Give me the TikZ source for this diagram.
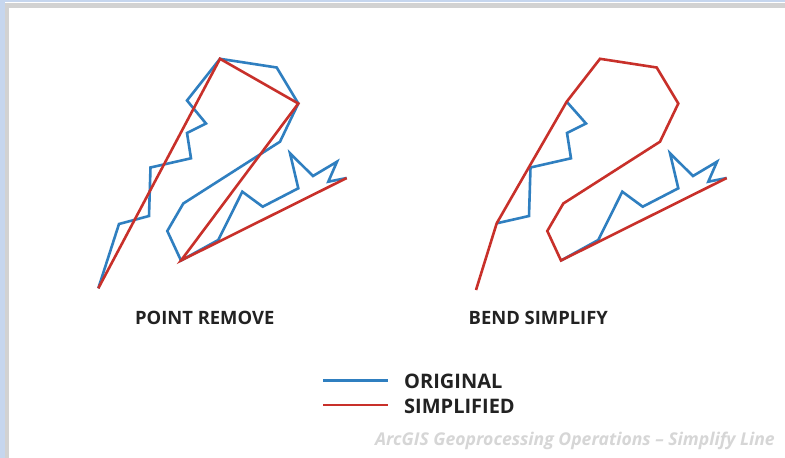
\documentclass[tikz,border=0pt]{standalone}
\usepackage{fontspec}
\newfontfamily\labfont{Open Sans}
\definecolor{origblue}{HTML}{2F7FC0}
\definecolor{simpred}{HTML}{C8302A}
\definecolor{framebl}{HTML}{C6D6EE}
\definecolor{framegr}{HTML}{D2D2D2}
\definecolor{foot}{HTML}{D6D6D6}
\definecolor{txt}{HTML}{222222}
\newcommand\mypts[1]{%
  \coordinate (#1b1) at (98.3,288.3);
  \coordinate (#1b2) at (119,224);
  \coordinate (#1b3) at (149,216);
  \coordinate (#1b4) at (150.5,167.5);
  \coordinate (#1b5) at (191,158.3);
  \coordinate (#1b6) at (187,133);
  \coordinate (#1b7) at (206,123.5);
  \coordinate (#1b8) at (187,100.5);
  \coordinate (#1b9) at (220,58.8);
  \coordinate (#1b10) at (276.7,67.5);
  \coordinate (#1b11) at (298.3,103.5);
  \coordinate (#1b12) at (280,141.7);
  \coordinate (#1b13) at (183.3,203.5);
  \coordinate (#1b14) at (167.3,231);
  \coordinate (#1b15) at (181,260.5);
  \coordinate (#1b16) at (218.3,240);
  \coordinate (#1b17) at (242.3,191.7);
  \coordinate (#1b18) at (262.7,206.7);
  \coordinate (#1b19) at (298.3,188.3);
  \coordinate (#1b20) at (290,153.3);
  \coordinate (#1b21) at (313,176);
  \coordinate (#1b22) at (337,161.7);
  \coordinate (#1b23) at (328.3,181.7);
  \coordinate (#1b24) at (346.7,178);
}
\tikzset{
  orig/.style={draw=origblue, line width=2.6pt, line join=miter},
  simp/.style={draw=simpred, line width=2.6pt, line join=miter},
  caption/.style={font=\labfont\bfseries\fontsize{18.4}{22}\selectfont, text=txt, inner sep=0pt},
  legtext/.style={font=\labfont\bfseries\fontsize{20}{24}\selectfont, text=txt, inner sep=0pt, anchor=west},
  footer/.style={font=\labfont\bfseries\itshape\fontsize{17.6}{21}\selectfont, text=foot, inner sep=0pt, anchor=east}
}
\begin{document}
\begin{tikzpicture}[x=1pt,y=-1pt]
\useasboundingbox (0,0) rectangle (785,458);
% frame
\fill[framebl] (0,0) rectangle (785,458);
\fill[white] (4.5,2) rectangle (785,3);
\fill[framegr] (4.5,3) rectangle (785,458);
\fill[white] (9,7.5) rectangle (785,458);
% left figure: point remove
\mypts{L}
\draw[orig] (Lb1) -- (Lb2) -- (Lb3) -- (Lb4) -- (Lb5) -- (Lb6) -- (Lb7) -- (Lb8) -- (Lb9) -- (Lb10) -- (Lb11) -- (Lb12) -- (Lb13) -- (Lb14) -- (Lb15) -- (Lb16) -- (Lb17) -- (Lb18) -- (Lb19) -- (Lb20) -- (Lb21) -- (Lb22) -- (Lb23) -- (Lb24);
\draw[simp] (Lb1) -- (Lb9) -- (Lb11) -- (Lb15) -- (Lb24);
% right figure: bend simplify
\begin{scope}[xshift=380pt]
\mypts{R}
\coordinate (Rs) at (96,290);
\coordinate (Rc2) at (116.7,223.3);
\coordinate (Rc4) at (148.3,168.3);
\coordinate (Rc8) at (186.7,101.7);
\end{scope}
\draw[orig] (Rc2) -- (Rb3) -- (Rb4) -- (Rb5) -- (Rb6) -- (Rb7) -- (Rc8);
\draw[orig] (Rb15) -- (Rb16) -- (Rb17) -- (Rb18) -- (Rb19) -- (Rb20) -- (Rb21) -- (Rb22) -- (Rb23) -- (Rb24);
\draw[simp] (Rs) -- (Rc2) -- (Rc4) -- (Rc8) -- (Rb9) -- (Rb10) -- (Rb11) -- (Rb12) -- (Rb13) -- (Rb14) -- (Rb15) -- (Rb24);
% captions
\node[caption] (cap1) at (204.7,317.5) {POINT REMOVE};
\node[caption] (cap2) at (538.3,317.5) {BEND SIMPLIFY};
% legend
\coordinate (lo1) at (323.3,380.7);
\coordinate (lo2) at (388.3,380.7);
\coordinate (ls1) at (323.3,405);
\coordinate (ls2) at (388.3,405);
\draw[orig] (lo1) -- (lo2);
\draw[simp] (ls1) -- (ls2);
\node[legtext] (lorig) at (404,381) {ORIGINAL};
\node[legtext] (lsimp) at (404,406) {SIMPLIFIED};
\node[footer] (foot) at (775,441) {ArcGIS Geoprocessing Operations \textendash{} Simplify Line};
\end{tikzpicture}
\end{document}
